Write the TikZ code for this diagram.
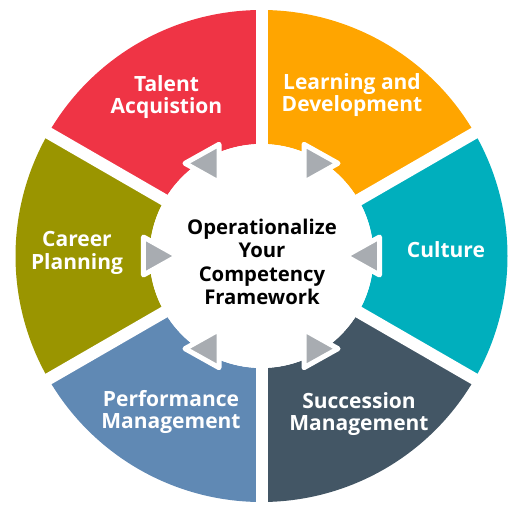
\documentclass[tikz,border=0pt]{standalone}
\usepackage{fontspec}
\setmainfont{Open Sans}
\usetikzlibrary{calc}
\definecolor{talentred}{HTML}{EF3445}
\definecolor{learnorange}{HTML}{FFA500}
\definecolor{cultureteal}{HTML}{00AFBD}
\definecolor{successslate}{HTML}{435665}
\definecolor{perfblue}{HTML}{6089B4}
\definecolor{careerolive}{HTML}{9A9500}
\definecolor{arrowgray}{HTML}{A8ACB1}

\begin{document}
\begin{tikzpicture}[
  x=1pt, y=1pt,
  font=\fontsize{21}{22.5}\selectfont\bfseries,
  seglabel/.style={text=white, align=center},
  hub/.style={text=black, align=center, font=\fontsize{20.3}{23.5}\selectfont\bfseries},
  gap/.style={white, line width=12pt},
  notch/.style={fill=arrowgray, draw=white, line width=5pt, line join=round}
]
\useasboundingbox (-261.5,-255) rectangle (256.5,256);
% ring segments
\foreach \a/\c in {90/talentred, 30/learnorange, -30/cultureteal,
                   -90/successslate, 210/perfblue, 150/careerolive}
  \fill[\c] (\a:246) arc[start angle=\a, end angle=\a+60, radius=246]
    -- (\a+60:112) arc[start angle=\a+60, end angle=\a, radius=112] -- cycle;
% white separators
\foreach \a in {30, 90, 150, 210, 270, 330}
  \draw[gap] (0,0) -- (\a:252);
\fill[white] (0,0) circle[radius=112];
% grey triangles
\foreach \a/\d in {0/-1, 60/1, 120/-1, 180/1, 240/-1, 300/1}
  \draw[notch, shift={(\a:107)}] ({\d*23},0) -- ({-\d*11},19) -- ({-\d*11},-19) -- cycle;
% texts
\node[hub] (core) at (0.5,-6) {Operationalize\\Your\\Competency\\Framework};
\node[seglabel] (talent) at (-95,159) {Talent\\Acquistion};
\node[seglabel] (learning) at (90.5,161) {Learning and\\Development};
\node[seglabel] (culture) at (184.5,6) {Culture};
\node[seglabel] (career) at (-184.5,3) {Career\\Planning};
\node[seglabel] (performance) at (-90.5,-156) {Performance\\Management};
\node[seglabel] (succession) at (97.5,-158) {Succession\\Management};
\end{tikzpicture}
\end{document}
